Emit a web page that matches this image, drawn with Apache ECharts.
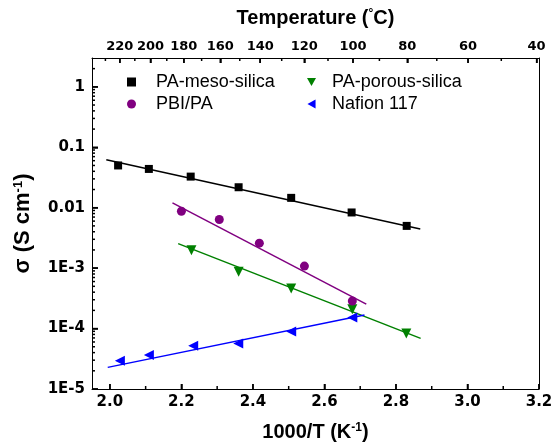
<!DOCTYPE html>
<html>
<head>
<meta charset="utf-8">
<script src="https://cdn.jsdelivr.net/npm/echarts@6/dist/echarts.min.js"></script>
<style>
  html, body { margin: 0; padding: 0; background: #fff; }
  #chart { width: 556px; height: 447px; }
</style>
</head>
<body>
<div id="chart"></div>
<script>
// measured points, x = 1000/T (K^-1), y = sigma (S cm^-1)
var mesoX = [2.023, 2.109, 2.226, 2.360, 2.507, 2.676, 2.830];
var mesoY = [0.050, 0.0438, 0.0327, 0.0218, 0.01455, 0.00834, 0.0050];
var pbiX = [2.200, 2.306, 2.418, 2.544, 2.678];
var pbiY = [0.00875, 0.00638, 0.00259, 0.00108, 0.000286];
var porousX = [2.228, 2.360, 2.507, 2.678, 2.829];
var porousY = [0.00197, 0.000875, 0.000459, 0.000209, 0.000083];
var nafionX = [2.028, 2.109, 2.233, 2.359, 2.507, 2.678];
var nafionY = [0.0000293, 0.0000364, 0.0000519, 0.0000568, 0.0000896, 0.000152];

// fitted lines (end points)
var mesoFitX = [1.990, 2.868];
var mesoFitY = [0.0624, 0.00444];
var pbiFitX = [2.175, 2.717];
var pbiFitY = [0.01205, 0.000253];
var porousFitX = [2.191, 2.869];
var porousFitY = [0.00254, 0.0000687];
var nafionFitX = [1.994, 2.712];
var nafionFitY = [0.0000228, 0.000168];

// tick labels
var xTicks = [2.0, 2.2, 2.4, 2.6, 2.8, 3.0, 3.2];
var xMinorTicks = [2.1, 2.3, 2.5, 2.7, 2.9, 3.1];
var tempTicks = [220, 200, 180, 160, 140, 120, 100, 80, 60, 40];
var tempMinorTicks = [230, 210, 190, 170, 150, 130, 110, 90, 70, 50];
var yTicks = [1e-5, 1e-4, 1e-3, 1e-2, 1e-1, 1];

function pairs(xs, ys) {
  return xs.map(function (x, i) { return [x, ys[i]]; });
}
function toInvT(t) { return 1000 / (t + 273.15); }

var yMinor = [];
for (var e = -5; e <= 0; e++) {
  for (var m = 2; m <= 9; m++) {
    var v = m * Math.pow(10, e);
    if (v < 3) yMinor.push(v);
  }
}

// tick marks: [x, y, length]
var bottomTickData = xTicks.map(function (v) { return [v, 1, 5]; })
  .concat(xMinorTicks.map(function (v) { return [v, 1, 3]; }));
var topTickData = tempTicks.map(function (t) { return [toInvT(t), 1, 5]; })
  .concat(tempMinorTicks.map(function (t) { return [toInvT(t), 1, 3]; }));
var leftTickData = yTicks.map(function (v) { return [2, v, 6]; })
  .concat(yMinor.map(function (v) { return [2, v, 3]; }));

function tickRenderer(side) {
  return function (params, api) {
    var cs = params.coordSys;
    var len = api.value(2);
    var pt = api.coord([api.value(0), api.value(1)]);
    var shape;
    if (side === 'left') {
      shape = { x1: cs.x, y1: pt[1], x2: cs.x + len, y2: pt[1] };
    } else {
      var yb = side === 'bottom' ? cs.y + cs.height : cs.y;
      shape = { x1: pt[0], y1: yb, x2: pt[0], y2: side === 'bottom' ? yb - len : yb + len };
    }
    return { type: 'line', shape: shape, style: { stroke: '#000', lineWidth: 1.5 } };
  };
}

var chart = echarts.init(document.getElementById('chart'));
var tickFont = { fontFamily: 'DejaVu Sans', fontWeight: 'bold', color: '#000' };
var nameFont = { fontFamily: 'Liberation Sans', fontWeight: 'bold', fontSize: 20, color: '#000' };
var tickLine = { color: '#000', width: 1.5 };
var downTri = 'path://M0,0 L10,0 L5,9 Z';
var leftTri = 'path://M9,0 L9,10 L0,5 Z';

var option = {
  animation: false,
  grid: { left: 92, right: 17, top: 58, bottom: 58 },
  legend: [
    {
      left: 122, top: 68, orient: 'vertical', itemWidth: 9, itemHeight: 9, itemGap: 4,
      data: [{ name: 'PA-meso-silica', icon: 'rect' }, { name: 'PBI/PA', icon: 'circle' }],
      textStyle: { fontFamily: 'Liberation Sans', fontSize: 18, color: '#000', padding: [0, 0, 0, 15] }
    },
    {
      left: 302, top: 68, orient: 'vertical', itemWidth: 9, itemHeight: 9, itemGap: 4,
      data: [{ name: 'PA-porous-silica', icon: downTri }, { name: 'Nafion 117', icon: leftTri }],
      textStyle: { fontFamily: 'Liberation Sans', fontSize: 18, color: '#000', padding: [0, 0, 0, 11] }
    }
  ],
  xAxis: [
    {
      type: 'value', position: 'bottom', min: 1.95, max: 3.2,
      axisLine: { show: true, lineStyle: { color: '#000', width: 1 } },
      axisTick: { show: true, inside: true, length: 5, customValues: xTicks, lineStyle: tickLine },
      axisLabel: Object.assign({ customValues: xTicks, fontSize: 15, margin: 6,
        formatter: function (v) { return v.toFixed(1); } }, tickFont),
      splitLine: { show: false },
      name: '1000/T (K{sup|-1})', nameLocation: 'middle', nameGap: 33,
      nameTextStyle: Object.assign({ rich: { sup: { fontFamily: 'Liberation Sans', fontWeight: 'bold', fontSize: 12, verticalAlign: 'top', padding: [0, 0, 8, 0] } } }, nameFont)
    },
    {
      type: 'value', position: 'top', min: 1.95, max: 3.2,
      axisLine: { show: true, lineStyle: { color: '#000', width: 1 } },
      axisTick: { show: true, inside: true, length: 5, customValues: tempTicks.map(toInvT), lineStyle: tickLine },
      axisLabel: Object.assign({ customValues: tempTicks.map(toInvT), fontSize: 13, margin: 5,
        formatter: function (v) { return String(Math.round(1000 / v - 273.15)); } }, tickFont),
      splitLine: { show: false },
      name: 'Temperature ({deg|°}C)', nameLocation: 'middle', nameGap: 30,
      nameTextStyle: Object.assign({ rich: { deg: { fontFamily: 'Liberation Sans', fontSize: 12, verticalAlign: 'top', padding: [0, 0, 8, 0] } } }, nameFont)
    }
  ],
  yAxis: [
    {
      type: 'log', logBase: 10, min: 1e-5, max: 3, position: 'left',
      axisLine: { show: true, lineStyle: { color: '#000', width: 1 } },
      axisTick: { show: true, inside: true, length: 6, customValues: yTicks, lineStyle: tickLine },
      axisLabel: Object.assign({ customValues: yTicks, fontSize: 15, margin: 7,
        formatter: function (v) {
          var p = Math.round(Math.log10(v));
          if (p >= -2) return ['0.01', '0.1', '1'][p + 2];
          return '1E-' + (-p);
        } }, tickFont),
      splitLine: { show: false },
      name: 'σ (S cm{sup|-1})', nameLocation: 'middle', nameGap: 58,
      nameTextStyle: Object.assign({}, nameFont, { fontSize: 22,
        rich: { sup: { fontFamily: 'Liberation Sans', fontWeight: 'bold', fontSize: 13, verticalAlign: 'top', padding: [0, 0, 9, 0] } } })
    },
    {
      type: 'log', logBase: 10, min: 1e-5, max: 3, position: 'right',
      axisLine: { show: true, lineStyle: { color: '#000', width: 1 } },
      axisTick: { show: false }, axisLabel: { show: false }, splitLine: { show: false }
    }
  ],
  series: [
    { name: 'bottomTicks', type: 'custom', xAxisIndex: 0, yAxisIndex: 0, silent: true, clip: false, z: 4, data: bottomTickData, renderItem: tickRenderer('bottom') },
    { name: 'topTicks', type: 'custom', xAxisIndex: 0, yAxisIndex: 0, silent: true, clip: false, z: 4, data: topTickData, renderItem: tickRenderer('top') },
    { name: 'leftTicks', type: 'custom', xAxisIndex: 0, yAxisIndex: 0, silent: true, clip: false, z: 4, data: leftTickData, renderItem: tickRenderer('left') },
    { name: 'fit1', type: 'line', data: pairs(mesoFitX, mesoFitY), showSymbol: false, symbol: 'none', lineStyle: { color: '#000', width: 1.5 }, z: 1 },
    { name: 'fit2', type: 'line', data: pairs(pbiFitX, pbiFitY), showSymbol: false, symbol: 'none', lineStyle: { color: '#800080', width: 1.5 }, z: 1 },
    { name: 'fit3', type: 'line', data: pairs(porousFitX, porousFitY), showSymbol: false, symbol: 'none', lineStyle: { color: '#008000', width: 1.5 }, z: 1 },
    { name: 'fit4', type: 'line', data: pairs(nafionFitX, nafionFitY), showSymbol: false, symbol: 'none', lineStyle: { color: '#0000ff', width: 1.5 }, z: 1 },
    { name: 'PA-meso-silica', type: 'scatter', data: pairs(mesoX, mesoY), symbol: 'rect', symbolSize: 8, itemStyle: { color: '#000', opacity: 1 }, z: 3 },
    { name: 'PA-porous-silica', type: 'scatter', data: pairs(porousX, porousY), symbol: 'triangle', symbolRotate: 180, symbolSize: 10, itemStyle: { color: '#008000', opacity: 1 }, z: 3 },
    { name: 'PBI/PA', type: 'scatter', data: pairs(pbiX, pbiY), symbol: 'circle', symbolSize: 9, itemStyle: { color: '#800080', opacity: 1 }, z: 3 },
    { name: 'Nafion 117', type: 'scatter', data: pairs(nafionX, nafionY), symbol: 'triangle', symbolRotate: 90, symbolSize: 10, itemStyle: { color: '#0000ff', opacity: 1 }, z: 3 }
  ]
};

chart.setOption(option);
</script>
</body>
</html>
